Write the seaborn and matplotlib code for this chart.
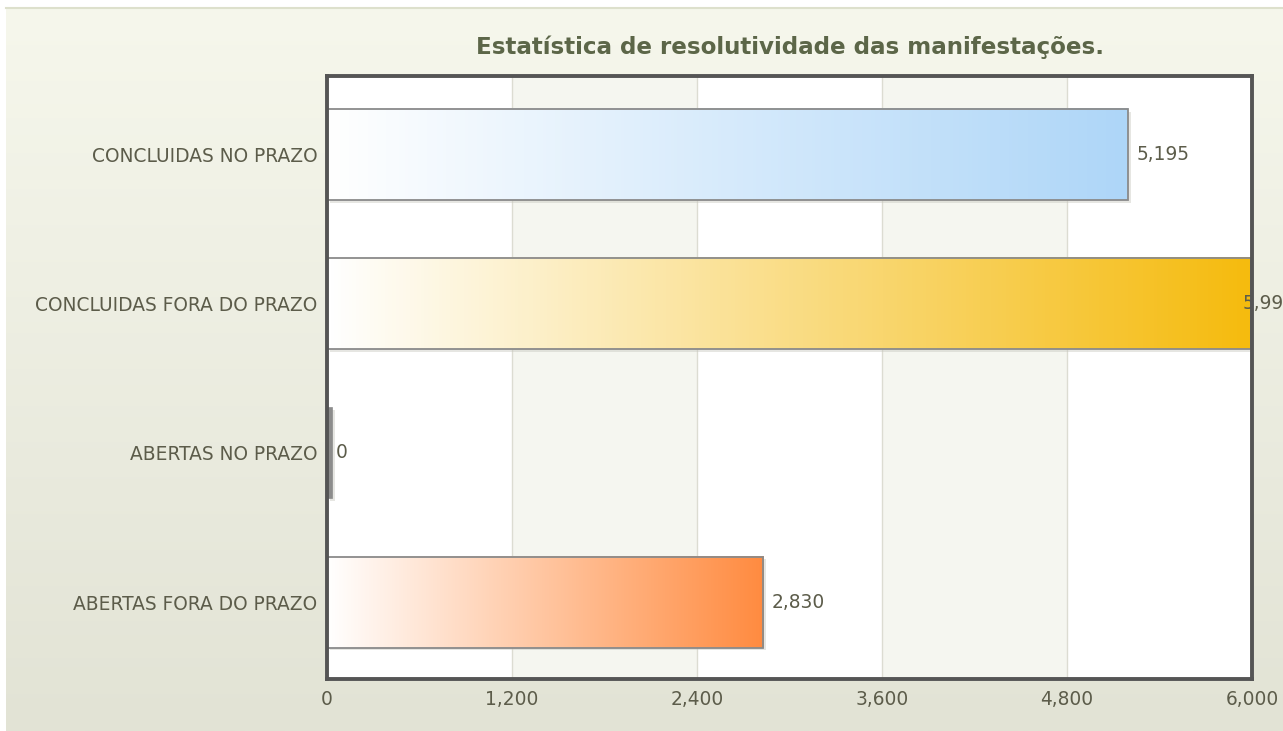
import numpy as np
import pandas as pd
import seaborn as sns
import matplotlib.pyplot as plt
import matplotlib.transforms as mtransforms
from matplotlib.patches import Rectangle
from matplotlib.colors import LinearSegmentedColormap

categories = ['CONCLUIDAS NO PRAZO', 'CONCLUIDAS FORA DO PRAZO',
              'ABERTAS NO PRAZO', 'ABERTAS FORA DO PRAZO']
values = [5195, 5992, 0, 2830]
bar_colors = ['#aed6f8', '#f5bb0e', '#9a9a9a', '#ff8b40']
xticks = [0, 1200, 2400, 3600, 4800, 6000]
title = 'Estatística de resolutividade das manifestações.'

df = pd.DataFrame({'categoria': categories, 'total': values})

W, H = 1283, 731
sns.set_style('white')
plt.rcParams['font.family'] = ['DejaVu Sans']
txt_color = '#5c5c4a'

fig = plt.figure(figsize=(W / 100, H / 100), dpi=100)

# background panel with soft vertical gradient
bg = fig.add_axes([6 / W, 0, 1 - 6 / W, (H - 8) / H], zorder=-5)
grad_bg = np.linspace(0, 1, 256).reshape(-1, 1)
bg.imshow(grad_bg, aspect='auto', extent=[0, 1, 0, 1],
          cmap=LinearSegmentedColormap.from_list('bg', ['#f6f7ec', '#e2e3d5']))
bg.set_xticks([])
bg.set_yticks([])
for s in ['left', 'right', 'bottom']:
    bg.spines[s].set_visible(False)
bg.spines['top'].set_color('#dde0cc')
bg.spines['top'].set_linewidth(1.5)

ax = fig.add_axes([327 / W, 1 - 679 / H, 925 / W, 603 / H])
ax.set_facecolor('white')

sns.barplot(data=df, x='total', y='categoria', orient='h', width=0.61,
            color='white', ax=ax, zorder=3)

# alternating bands and grid lines
for i, t in enumerate(xticks[:-1]):
    if i % 2 == 1:
        ax.axvspan(t, xticks[i + 1], color='#f5f6f0', zorder=0, lw=0)
for t in xticks[1:-1]:
    ax.axvline(t, color='#dcdcd2', lw=1, zorder=1)

shadow_tr = ax.transData + mtransforms.ScaledTranslation(2 / 72, -2 / 72, fig.dpi_scale_trans)
for patch, c, v in zip(ax.patches, bar_colors, values):
    x0, y0 = patch.get_x(), patch.get_y()
    w, h = patch.get_width(), patch.get_height()
    ax.add_patch(Rectangle((x0, y0), max(w, 35), h, transform=shadow_tr,
                           facecolor='#c8c8c0', alpha=0.45, lw=0, zorder=2))
    if w > 0:
        cmap = LinearSegmentedColormap.from_list('b', ['white', c])
        ax.imshow(np.linspace(0, 1, 256).reshape(1, -1), cmap=cmap, aspect='auto',
                  extent=[x0, x0 + w, y0 + h, y0], zorder=3)
        patch.set_facecolor('none')
        patch.set_edgecolor('#8a8a8a')
        patch.set_linewidth(1.3)
    else:
        patch.set_width(35)
        patch.set_facecolor('#8c8c8c')
        patch.set_edgecolor('#8c8c8c')
        patch.set_linewidth(0.5)
    patch.set_zorder(4)
    off = -6 if v > 0.97 * xticks[-1] else 6
    ax.annotate(f'{v:,}', (x0 + w, y0 + h / 2), xytext=(off, 0),
                textcoords='offset points', va='center', ha='left',
                fontsize=13.4, color=txt_color, zorder=6, annotation_clip=False)

ax.set_xlim(xticks[0], xticks[-1])
ax.set_ylim(3.516, -0.526)
ax.set_xticks(xticks)
ax.set_xticklabels([f'{t:,}' for t in xticks])
ax.tick_params(axis='both', length=0, labelsize=13.4, labelcolor=txt_color)
ax.tick_params(axis='x', pad=8)
ax.tick_params(axis='y', pad=7)
ax.set_xlabel('')
ax.set_ylabel('')
for s in ax.spines.values():
    s.set_visible(True)
    s.set_color('#555555')
    s.set_linewidth(2.8)
    s.set_zorder(7)

fig.text(789.5 / W, 1 - 47 / H, title, ha='center', va='center',
         fontsize=16.6, fontweight='bold', color='#5c6648')

fig.savefig('out.png', dpi=100)
